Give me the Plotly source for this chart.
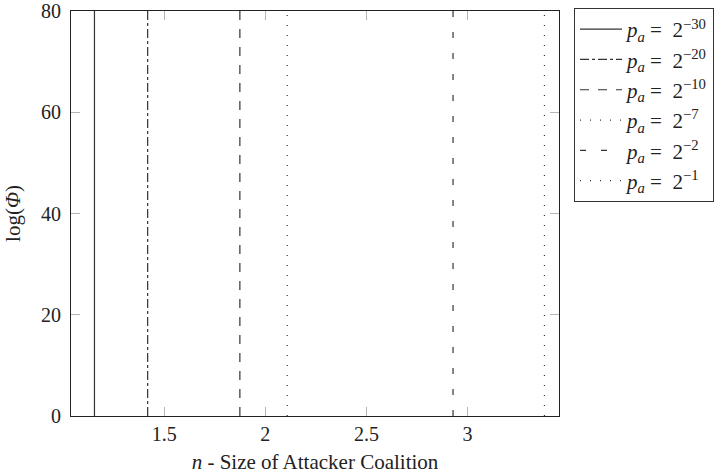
import plotly.graph_objects as go

# Data
pa_exponents = [-30, -20, -10, -7, -2, -1]
n_values = [1.155, 1.418, 1.874, 2.108, 2.928, 3.380]
phi_range = [0, 80]
dash_styles = ["solid", "dashdot", "dash", "1px,9px", "6px,15px", "1px,9px"]
x_ticks = [1.5, 2, 2.5, 3]
x_tick_labels = ["1.5", "2", "2.5", "3"]
y_ticks = [0, 20, 40, 60, 80]

FONT = "Liberation Serif"
INK = "#222222"

fig = go.Figure()
for e, n, d in zip(pa_exponents, n_values, dash_styles):
    fig.add_trace(go.Scatter(
        x=[n, n], y=phi_range, mode="lines",
        line=dict(color="#333333", width=1.2, dash=d),
        name=f"<i>p</i><sub><i>a</i></sub>\u00a0=\u00a0\u00a02<sup>\u2212{abs(e)}</sup>",
    ))

fig.update_layout(
    width=722, height=475,
    margin=dict(l=71, r=163, t=11, b=59, autoexpand=False),
    paper_bgcolor="white", plot_bgcolor="white",
    font=dict(family=FONT, size=19, color=INK),
    showlegend=True,
    legend=dict(
        xref="container", yref="container",
        x=574 / 722, y=1 - 8 / 475, xanchor="left", yanchor="top",
        bordercolor="#333333", borderwidth=1,
        font=dict(family=FONT, size=21, color=INK),
        itemwidth=42, tracegroupgap=0,
    ),
)
fig.update_xaxes(
    range=[1.039, 3.452], tickvals=x_ticks, ticktext=x_tick_labels,
    tickfont=dict(family=FONT, size=20, color=INK),
    ticks="inside", ticklen=9, tickcolor="#b5b5b5", tickwidth=1,
    showline=True, linecolor=INK, linewidth=1, mirror="ticks",
    showgrid=False, zeroline=False, automargin=False,
    title=dict(text="<i>n</i> - Size of Attacker Coalition", standoff=10,
               font=dict(family=FONT, size=21, color=INK)),
)
fig.update_yaxes(
    range=phi_range, tickvals=y_ticks,
    tickfont=dict(family=FONT, size=20, color=INK),
    ticks="inside", ticklen=9, tickcolor="#b5b5b5", tickwidth=1,
    ticklabelstandoff=5,
    showline=True, linecolor=INK, linewidth=1, mirror="ticks",
    showgrid=False, zeroline=False, automargin=False,
    title=dict(text="log(<i>\u03a6</i>)", standoff=14,
               font=dict(family=FONT, size=21, color=INK)),
)

fig.write_html("out.html")
